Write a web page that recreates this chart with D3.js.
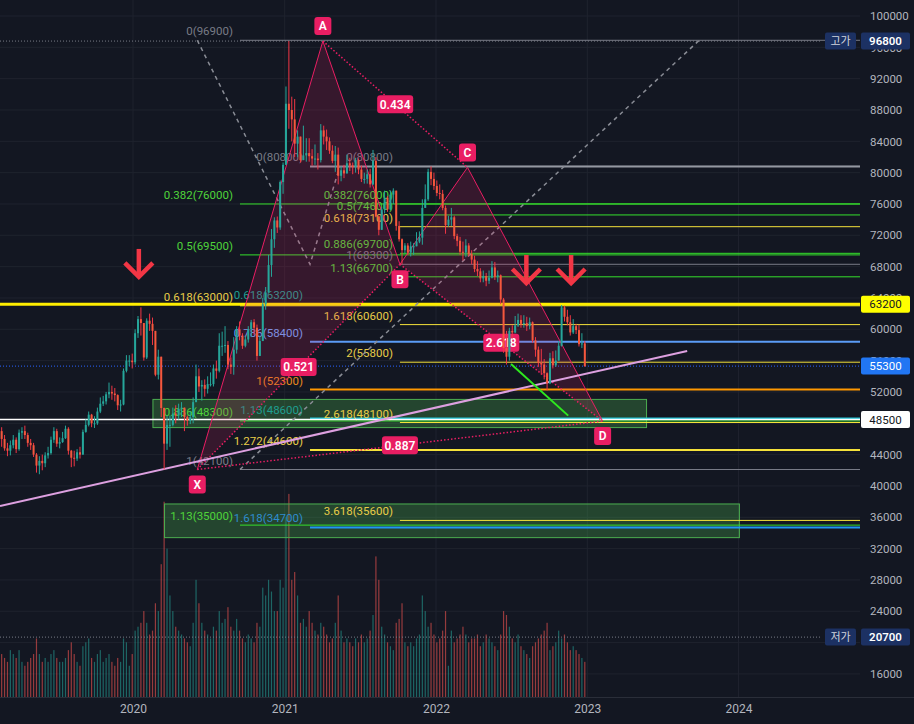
<!DOCTYPE html>
<html>
<head>
<meta charset="utf-8">
<script src="https://cdnjs.cloudflare.com/ajax/libs/d3/7.8.5/d3.min.js"></script>
<style>
  body { margin: 0; background: #131722; overflow: hidden; }
  svg { display: block; }
</style>
</head>
<body>
<svg id="chart" width="914" height="724"></svg>
<script>
// ---------------- data ----------------
// weekly candles, first week starts 2019-02-18, open = previous close
const weekStart = "2019-02-18";
const firstOpen = 47000;
const closes = [
  46000,44800, 44500,45200,45900,44700, 46800,47000,46500,45500,45200, 44000,42600,43200,42900,
  43900,44200,45900,47000, 45400,45600,46100,47300,44500, 43600,43500,44300,44000,
  46900,47800,49100,48000,48000, 49500,50500,50800,51700, 52000,51800,51600,50300, 50400,54700,56000,56000,55800,
  // 2020
  59500,61300,60800,56400, 61100,60700,59800,54200, 56500,49950,45400,47800,47800, 49250,49000,49850,50000,
  48800,48300,48800,50700, 54000,52700,52900,52400,53000, 53000,55000,54700,57900, 57900,58000,55500,55200,57400,
  60000,59200,57900,58700, 60000,60900,60200,56600, 58500,63200,64700,68200,71500, 73900,73000,78800,81000,
  // 2021
  88800,88000,86800,83700, 84600,81600,82200,82500, 82100,81800,81800,81600,85400, 84600,84000,82800,81500,
  82300,79600,80300,79900,81200, 80900,80700,81600,80400, 79200,79200,79800,78500, 81500,74400,72700,75300,76800,
  75300,77200,77700,73200, 71500,70100,70700,69800, 70600,70600,71200,71700,75500, 76600,80100,79200,78300,
  // 2022
  77400,77300,75500,73300,74000, 74300,71900,71300,69900, 69800,70700,69600,68900, 67700,67400,66500,66800,
  66200,66600,67900,66700,66900, 63800,57600,56500,59800, 59600,60500,61200,60700, 60800,60400,60900,58600,57400,
  55700,55500,54400,53100, 56300,55400,56000,57900,62800, 61600,60900,59600,60400, 59900,58100,58200,55300
];
const highs = [
  47500,46500, 45500,45800,46500,46200, 47200,47500,47700,46800,46000, 45500,44200,43800,44000,
  44300,45000,46300,47500, 47300,46200,46900,47700,47500, 44600,44500,44700,45000,
  47200,48500,49500,49200,48900, 50000,51300,51500,52000, 53200,52800,52500,51700, 51000,55000,56700,56700,56900,
  60000,61700,62800,60600, 61400,62000,61500,59000, 57400,56500,50000,49000,49000, 50000,50300,50500,50700,
  49800,49000,49500,51300, 55500,55000,53500,53600,54000, 54500,55500,56000,59500, 59700,60400,58500,56400,59000,
  60400,61000,59500,59200, 60400,61200,61300,60600, 59200,64000,65400,69500,72800, 74300,74400,79000,81300,
  91000,96800,89700,89400, 85400,84300,86000,84400, 84400,83000,83600,82500,86200, 86000,85500,84500,83500,
  83400,83200,80800,81000,82300, 81900,81300,81900,81800, 80900,80000,80400,80500, 82900,82000,74500,75600,77700,
  77000,77700,78000,77700, 73800,71600,71000,71000, 71200,71000,72400,72500,76600, 78500,80500,80800,80000,
  79000,78500,77800,75800,74500, 75500,74500,72200,71800, 71200,71500,71000,70100, 69400,68700,67800,67500,
  67200,67500,68700,68600,67500, 67000,64000,59800,60200, 60500,61700,62000,61800, 61800,61600,61500,61000,59000,
  57800,57500,56200,54500, 57000,57200,57300,58500,63100, 63000,62500,61800,61300, 60700,60600,59500,58500
];
const lows = [
  45000,44500, 43800,43900,44800,44200, 44500,46000,46000,45000,44600, 43700,41700,41500,42000,
  42400,43500,44000,45500, 45000,44800,45500,46000,44000, 42400,42500,43200,43500,
  44000,46800,47600,47500,47400, 47800,49300,50200,50400, 51200,51000,50800,49700, 49500,50300,54500,55300,55000,
  55500,58900,59200,56000, 56200,59800,58000,54000, 53600,48800,42100,44600,45000, 47600,48000,48500,48800,
  47000,47700,47900,48000, 50800,52000,50900,51400,51800, 52700,52700,53700,54500, 56600,57000,54900,54300,54200,
  56900,58600,57500,57700, 58300,59000,59300,56000, 56600,58900,62500,64900,66700, 70400,72300,72700,77300,
  81000,85600,84000,82000, 82000,81300,81600,81400, 81400,80900,81000,80400,81300, 83600,82900,82400,81200,
  80100,78500,78900,79300,80200, 80200,79800,80000,79800, 78800,78600,78600,78100, 78400,74300,72000,72900,74800,
  75000,75200,76000,72600, 71200,68300,69700,69500, 69300,69500,70600,71000,70800, 75600,76400,78400,77800,
  77000,76600,75200,72200,73100, 73200,71500,70600,69500, 68800,69200,69300,68300, 67300,66800,66000,66000,
  65500,65800,66500,66300,66000, 63200,57000,55500,56000, 58800,59500,60300,60200, 60200,59800,60000,58300,56500,
  55200,54200,53600,52200, 53000,55000,55200,56100,57800, 61000,60500,59200,59400, 59400,57800,57600,55200
];
// weekly volume (million shares)
const volumes = [
  55,50, 45,60,55,50, 60,45,40,45,50, 55,75,55,45, 50,45,55,60, 50,45,45,50,60, 70,55,45,40,
  65,70,75,50,45, 55,60,45,50, 55,45,40,50, 45,75,70,40,55,
  85,90,95,110, 95,80,85,120, 110,170,250,190,130, 110,90,85,80, 75,70,65,95, 150,120,95,85,80,
  75,90,85,110, 95,100,115,90,85, 100,85,75,70, 80,75,70,95, 90,140,130,150,135, 110,110,150,140,
  230,260,150,160, 130,95,100,90, 110,95,85,80,95, 90,80,70,75, 95,130,85,70,75, 70,65,75,70,
  80,70,75,85, 105,180,150,90,80, 70,65,60,95, 100,120,70,65, 70,65,75,80,130, 110,90,95,80,
  70,75,85,110,40, 85,70,75,80, 90,80,70,75, 75,80,65,70, 80,75,70,65,60, 80,110,105,90,
  75,70,80,65, 60,55,50,65,70, 75,80,85,95, 60,65,70,85,75, 80,70,60,65, 60,55,50,45
];

// price axis labels (48000 and 20000 sit fully under the price tags)
const priceTicks = [16000,24000,28000,32000,36000,40000,44000,52000,56000,60000,
  64000,68000,72000,76000,80000,84000,88000,92000,96000,100000];
const gridTicks = [16000,20000,24000,28000,32000,36000,40000,44000,48000,52000,56000,60000,
  64000,68000,72000,76000,80000,84000,88000,92000,96000,100000];
const yearTicks = ["2020","2021","2022","2023","2024"];

// fibonacci tools: start date, level names, level prices
const fib1Start = "2020-09-15";
const fib1Levels = ["0","0.382","0.5","0.618","0.886","1","1.13"];
const fib1Prices = [96900,76000,69500,63000,48300,42100,35000];
const fib3Start = "2021-03-03";
const fib3Levels = ["0","0.618","0.786","1","1.13","1.272","1.618"];
const fib3Prices = [80800,63200,58400,52300,48600,44600,34700];
const fib2Start = "2021-10-06";
const fib2Levels = ["0","0.382","0.5","0.618","0.886","1","1.13","1.618","2","2.618","3.618"];
const fib2Prices = [80800,76000,74600,73100,69700,68300,66700,60600,55800,48100,35600];

// XABCD pattern
const patternNames = ["X","A","B","C","D"];
const patternDates = ["2020-06-04","2021-04-03","2021-10-06","2022-03-18","2023-02-07"];
const patternPrices = [42100,96800,68300,80670,48280];
const ratioFrom = ["X","A","B","X"];
const ratioTo = ["B","C","D","D"];
const ratioTexts = ["0.521","0.434","2.618","0.887"];

// other drawings
const boxDates = [["2020-02-18","2023-05-24"],["2020-03-17","2024-01-03"]];
const boxPrices = [[51050,47450],[37700,33400]];
const dashDates1 = ["2020-06-04","2021-03-03","2021-05-14"];
const dashPrices1 = [96900,68300,80800];
const dashDates2 = ["2020-09-15","2023-09-28"];
const dashPrices2 = [42100,96900];
const supportDates = ["2019-02-14","2023-08-30"];
const supportPrices = [37450,57240];
const greenDates = ["2022-07-01","2022-11-16"];
const greenPrices = [55580,48980];
const arrowDates = ["2020-01-15","2022-08-07","2022-11-23"];
const arrowPrices = [66430,65660,65660];

// price tags on right axis
const tagPrices = [96800,63200,55300,48500,20700];
const highLow = [["고가",96800],["저가",20700]];

// ---------------- chart ----------------
const svg = d3.select("#chart");
const W = 914, H = 724, plotW = 860, plotH = 697;
const FONT = "Roboto, 'Noto Sans', sans-serif";
const day = s => new Date(s + "T00:00:00");

const x = d3.scaleTime().domain([new Date(2019, 1, 14), new Date(2024, 9, 20)]).range([0, plotW]);
const y = d3.scaleLinear().domain([13055, 102043]).range([plotH, 0]);
const yv = d3.scaleLinear().domain([0, 265]).range([plotH, 490]);

const candles = closes.map((c, i) => {
  const o = i === 0 ? firstOpen : closes[i - 1];
  return {
    date: d3.timeDay.offset(day(weekStart), 7 * i), o: o, c: c,
    h: Math.max(highs[i], o, c), l: Math.min(lows[i], o, c), v: volumes[i]
  };
});

svg.append("rect").attr("width", W).attr("height", H).attr("fill", "#131722");
svg.append("defs").append("clipPath").attr("id", "clip")
  .append("rect").attr("width", plotW).attr("height", plotH);

const plot = svg.append("g").attr("clip-path", "url(#clip)");

// grid
plot.append("g").selectAll("line").data(gridTicks).join("line")
  .attr("x1", 0).attr("x2", plotW)
  .attr("y1", d => y(d)).attr("y2", d => y(d))
  .attr("stroke", "#1f232e");
plot.append("g").selectAll("line").data(yearTicks).join("line")
  .attr("x1", d => x(new Date(+d, 0, 1))).attr("x2", d => x(new Date(+d, 0, 1)))
  .attr("y1", 0).attr("y2", plotH)
  .attr("stroke", "#1f232e");

// volume
plot.append("g").selectAll("rect").data(candles).join("rect")
  .attr("x", d => x(d.date) - 0.6).attr("width", 1.2)
  .attr("y", d => yv(d.v)).attr("height", d => plotH - yv(d.v))
  .attr("fill", d => d.c >= d.o ? "rgba(38,166,154,0.55)" : "rgba(239,83,80,0.6)");

// green boxes
boxDates.forEach((bd, i) => {
  plot.append("rect")
    .attr("x", x(day(bd[0]))).attr("width", x(day(bd[1])) - x(day(bd[0])))
    .attr("y", y(boxPrices[i][0])).attr("height", y(boxPrices[i][1]) - y(boxPrices[i][0]))
    .attr("fill", "rgba(76,175,80,0.3)").attr("stroke", "#4caf50").attr("stroke-width", 1);
});

// colours
const GRAY = "#787b86", GREEN = "#35e02c", GREEN_T = "#4fd43a", YEL = "#f5e23a", YEL_T = "#e8cd48",
  TEAL_T = "#1f9e90", CYAN = "#22c3d6", BLUE = "#5b9cf6", BLUE_T = "#6aa6f8", ORANGE = "#ff9800",
  ORANGE_T = "#e8891e", BLUE2 = "#2196f3", BLUE2_T = "#2e8ccc";

//ham ve 1 bo fibonacci
let draw_fib = (start, levels, prices, lineCols, textCols, width) => {
  const g = plot.append("g");
  const x0 = x(day(start));
  levels.forEach((lv, i) => {
    g.append("line")
      .attr("x1", x0).attr("x2", plotW)
      .attr("y1", y(prices[i])).attr("y2", y(prices[i]))
      .attr("stroke", lineCols[i]).attr("stroke-width", width);
    g.append("text")
      .attr("x", x0 - 7).attr("y", y(prices[i]) - 5)
      .attr("text-anchor", "end").attr("fill", textCols[i])
      .style("font", "11.5px " + FONT)
      .text(lv + "(" + prices[i] + ")");
  });
};
draw_fib(fib1Start, fib1Levels, fib1Prices,
  [GRAY, GREEN, GREEN, YEL, GREEN, GRAY, GREEN],
  [GRAY, GREEN_T, GREEN_T, YEL_T, GREEN_T, GRAY, GREEN_T], 1);
draw_fib(fib3Start, fib3Levels, fib3Prices,
  ["#9598a1", TEAL_T, BLUE, ORANGE, CYAN, YEL, BLUE2],
  [GRAY, TEAL_T, BLUE_T, ORANGE_T, TEAL_T, YEL_T, BLUE2_T], 2);
draw_fib(fib2Start, fib2Levels, fib2Prices,
  ["#9598a1", GREEN, GREEN, YEL, GREEN, GRAY, GREEN, YEL, YEL, YEL, YEL],
  [GRAY, GREEN_T, GREEN_T, YEL_T, GREEN_T, GRAY, GREEN_T, YEL_T, YEL_T, YEL_T, YEL_T], 1);

// full width price lines
plot.append("line").attr("x1", 0).attr("x2", plotW).attr("y1", y(63200)).attr("y2", y(63200))
  .attr("stroke", "#ffee00").attr("stroke-width", 3);
plot.append("line").attr("x1", 0).attr("x2", plotW).attr("y1", y(48500)).attr("y2", y(48500))
  .attr("stroke", "#ffffff").attr("stroke-width", 1.5);
plot.append("line").attr("x1", 0).attr("x2", plotW).attr("y1", y(55300)).attr("y2", y(55300))
  .attr("stroke", "#2962ff").attr("stroke-width", 1).attr("stroke-dasharray", "1,2");
highLow.forEach(hl => {
  plot.append("line").attr("x1", 0).attr("x2", 822).attr("y1", y(hl[1])).attr("y2", y(hl[1]))
    .attr("stroke", GRAY).attr("stroke-width", 1).attr("stroke-dasharray", "1,2");
});

// dashed gray trend lines
const line = d3.line().x(d => x(day(d[0]))).y(d => y(d[1]));
plot.append("path").datum(dashDates1.map((d, i) => [d, dashPrices1[i]]))
  .attr("d", line).attr("fill", "none").attr("stroke", "#8a8d96")
  .attr("stroke-width", 1.5).attr("stroke-dasharray", "4,4");
plot.append("path").datum(dashDates2.map((d, i) => [d, dashPrices2[i]]))
  .attr("d", line).attr("fill", "none").attr("stroke", "#8a8d96")
  .attr("stroke-width", 1.5).attr("stroke-dasharray", "4,4");

// XABCD harmonic
const P = {};
patternNames.forEach((n, i) => { P[n] = [patternDates[i], patternPrices[i]]; });
const PINK = "#e91e63";
[["X","A","B"],["B","C","D"]].forEach(tri => {
  plot.append("path").attr("d", line(tri.map(n => P[n])) + "Z")
    .attr("fill", "rgba(233,30,99,0.17)").attr("stroke", "none");
});
plot.append("path").attr("d", line(["X","A","B","C","D"].map(n => P[n])))
  .attr("fill", "none").attr("stroke", PINK).attr("stroke-width", 1);
ratioFrom.forEach((f, i) => {
  plot.append("path").attr("d", line([P[f], P[ratioTo[i]]]))
    .attr("fill", "none").attr("stroke", PINK).attr("stroke-width", 1.5)
    .attr("stroke-dasharray", "1.5,2");
});

//ham ve nhan mau hong
let pink_tag = (cx, cy, txt, w) => {
  plot.append("rect").attr("x", cx - w / 2).attr("y", cy - 9).attr("width", w).attr("height", 18)
    .attr("rx", 3).attr("fill", PINK);
  plot.append("text").attr("x", cx).attr("y", cy).attr("dy", "0.36em")
    .attr("text-anchor", "middle").attr("fill", "#ffffff")
    .style("font", "600 12px " + FONT).text(txt);
};
ratioFrom.forEach((f, i) => {
  const a = P[f], b = P[ratioTo[i]];
  const cx = (x(day(a[0])) + x(day(b[0]))) / 2;
  const cy = (y(a[1]) + y(b[1])) / 2;
  pink_tag(cx, cy, ratioTexts[i], 36);
});

// support line and green line
plot.append("path").datum(supportDates.map((d, i) => [d, supportPrices[i]]))
  .attr("d", line).attr("fill", "none").attr("stroke", "#dda0e0").attr("stroke-width", 2);
plot.append("path").datum(greenDates.map((d, i) => [d, greenPrices[i]]))
  .attr("d", line).attr("fill", "none").attr("stroke", "#2ee81e").attr("stroke-width", 2);

// candles
const upCol = "#26a69a", downCol = "#f4583d", downWick = "#f23645";
const cg = plot.append("g");
cg.selectAll("line").data(candles).join("line")
  .attr("x1", d => x(d.date)).attr("x2", d => x(d.date))
  .attr("y1", d => y(d.h)).attr("y2", d => y(d.l))
  .attr("stroke", d => d.c >= d.o ? upCol : downWick).attr("stroke-width", 1);
cg.selectAll("rect").data(candles).join("rect")
  .attr("x", d => x(d.date) - 1).attr("width", 2)
  .attr("y", d => y(Math.max(d.o, d.c)))
  .attr("height", d => Math.max(1, Math.abs(y(d.o) - y(d.c))))
  .attr("fill", d => d.c >= d.o ? upCol : downCol);

// point labels
patternNames.forEach((n, i) => {
  const above = i % 2 === 1;
  pink_tag(x(day(patternDates[i])), y(patternPrices[i]) + (above ? -15 : 15), n, 17);
});

// red arrows
arrowDates.forEach((d, i) => {
  const ax = x(day(d)), ay = y(arrowPrices[i]);
  const g = plot.append("g").attr("stroke", "#f23645").attr("stroke-width", 4.5)
    .attr("fill", "none").attr("stroke-linejoin", "miter");
  g.append("line").attr("x1", ax).attr("x2", ax).attr("y1", ay - 30).attr("y2", ay - 3);
  g.append("path").attr("d", `M${ax - 14},${ay - 16}L${ax},${ay - 2}L${ax + 14},${ay - 16}`);
});

// axes
svg.append("line").attr("x1", 0).attr("x2", W).attr("y1", plotH + 0.5).attr("y2", plotH + 0.5)
  .attr("stroke", "#2a2e39");
const axisR = svg.append("g").attr("transform", `translate(${plotW + 2},0)`)
  .call(d3.axisRight(y).tickValues(priceTicks).tickSize(0).tickPadding(8).tickFormat(d3.format("d")));
axisR.select(".domain").remove();
axisR.selectAll("text").attr("fill", "#b2b5be").style("font", "11.5px " + FONT);

const axisB = svg.append("g").attr("transform", `translate(0,${plotH})`)
  .call(d3.axisBottom(x).tickValues(yearTicks.map(t => new Date(+t, 0, 1)))
    .tickSize(0).tickPadding(7).tickFormat(d3.timeFormat("%Y")));
axisB.select(".domain").remove();
axisB.selectAll("text").attr("fill", "#b2b5be").style("font", "12px " + FONT);

// price tags
const tagBg = ["#1c3163", "#ffff00", "#2176f3", "#ffffff", "#1c3163"];
const tagFg = ["#ffffff", "#131722", "#ffffff", "#131722", "#ffffff"];
tagPrices.forEach((p, i) => {
  svg.append("rect").attr("x", 861).attr("y", y(p) - 8.5).attr("width", 49).attr("height", 17)
    .attr("rx", 2).attr("fill", tagBg[i]);
  svg.append("text").attr("x", 885.5).attr("y", y(p)).attr("dy", "0.36em")
    .attr("text-anchor", "middle").attr("fill", tagFg[i])
    .style("font", (i === 0 || i === 4 ? "600 " : "") + "11.5px " + FONT).text(p);
});
highLow.forEach(hl => {
  svg.append("rect").attr("x", 825).attr("y", y(hl[1]) - 8.5).attr("width", 31).attr("height", 17)
    .attr("rx", 2).attr("fill", "#1c3163");
  svg.append("text").attr("x", 840.5).attr("y", y(hl[1])).attr("dy", "0.36em")
    .attr("text-anchor", "middle").attr("fill", "#d1d4dc")
    .style("font", "11px 'Noto Sans CJK KR', sans-serif").text(hl[0]);
});
</script>
</body>
</html>
